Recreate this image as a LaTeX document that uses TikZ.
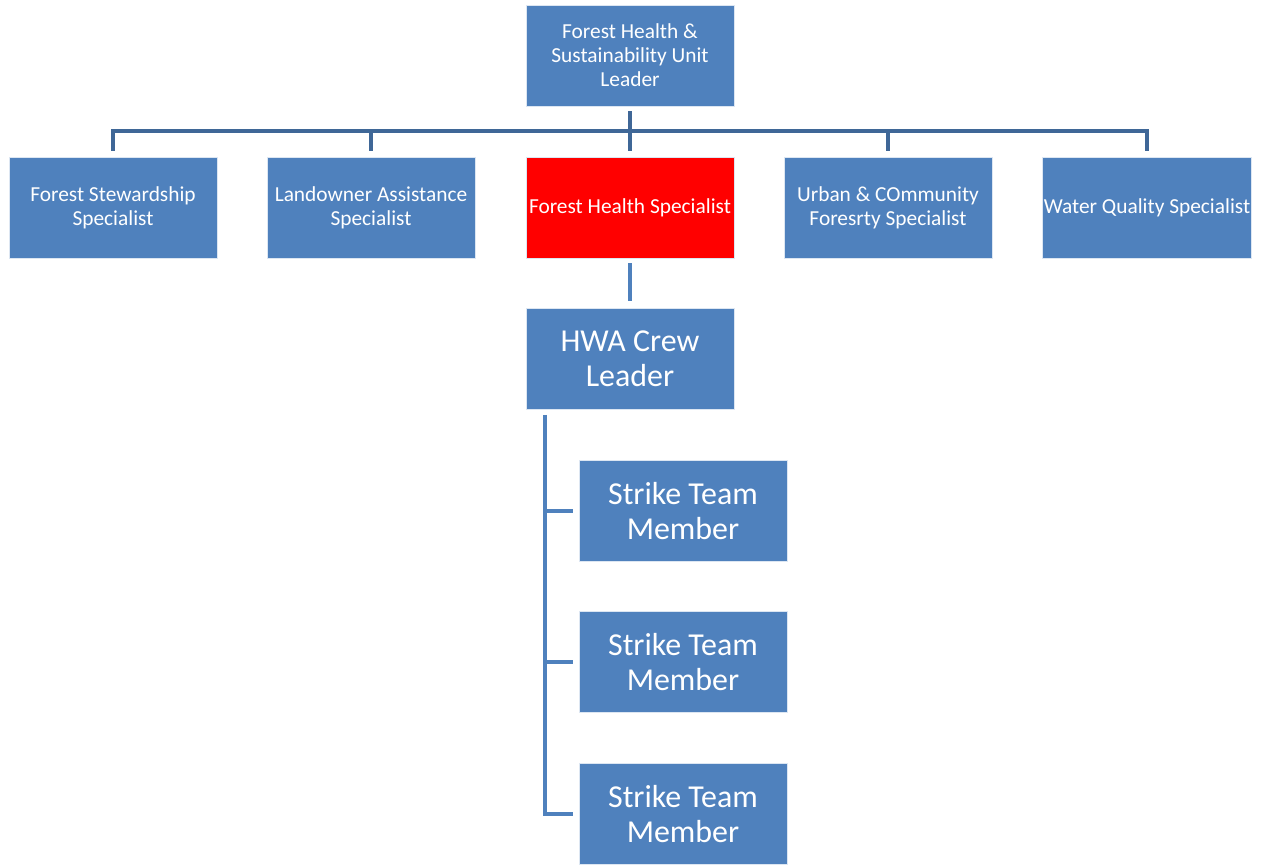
\documentclass[tikz,border=0pt]{standalone}
\usepackage{fontspec}
\setmainfont{Carlito}
\definecolor{boxblue}{HTML}{4F81BD}
\definecolor{linkblue}{HTML}{3F6797}
\tikzset{
  unit/.style={rectangle,minimum width=5.2cm,minimum height=2.525cm,inner sep=1pt,fill=boxblue,draw=white!80!boxblue,line width=0.4pt,text=white,align=center,font=\fontsize{15.2}{17}\selectfont},
  crew/.style={unit,font=\fontsize{22.7}{25}\selectfont},
  bar/.style={draw=linkblue,line width=3.3pt},
  twig/.style={draw=boxblue,line width=3.3pt}
}
\begin{document}
\begin{tikzpicture}[x=0.025cm,y=-0.025cm]
\useasboundingbox (0,0) rectangle (1262,865);
% top of the unit
\node[unit] (lead) at (630,55.5) {Forest Health \&\\ Sustainability Unit\\ Leader};
\node[unit] (fs) at (113,207.5) {Forest Stewardship\\ Specialist};
\node[unit] (ls) at (371,207.5) {Landowner Assistance\\ Specialist};
\node[unit,fill=red] (fhs) at (630,207.5) {Forest Health Specialist};
\node[unit] (uc) at (888,207.5) {Urban \& COmmunity\\ Foresrty Specialist};
\node[unit] (wq) at (1147,207.5) {Water Quality Specialist};
% crew
\node[crew] (hwa) at (630,359) {HWA Crew\\ Leader};
\node[crew] (st1) at (683,511) {Strike Team\\ Member};
\node[crew] (st2) at (683,662) {Strike Team\\ Member};
\node[crew] (st3) at (683,814) {Strike Team\\ Member};
\coordinate (bus) at (630,131);
\coordinate (spine) at (545,415);

\draw[bar] ([yshift=-3.5pt]lead.south) -- ([yshift=4.3pt]fhs.north);
\draw[bar] ([yshift=4.3pt]fs.north) |- (wq.north |- bus) -- ([yshift=4.3pt]wq.north);
\draw[bar] ([yshift=4.3pt]ls.north) -- (ls.north |- bus);
\draw[bar] ([yshift=4.3pt]uc.north) -- (uc.north |- bus);

\draw[twig] ([yshift=-3.5pt]fhs.south) -- ([yshift=4.8pt]hwa.north);
\draw[twig] (spine) |- ([xshift=-4.3pt]st3.west);
\draw[twig] (spine |- st1) -- ([xshift=-4.3pt]st1.west);
\draw[twig] (spine |- st2) -- ([xshift=-4.3pt]st2.west);
\end{tikzpicture}
\end{document}
